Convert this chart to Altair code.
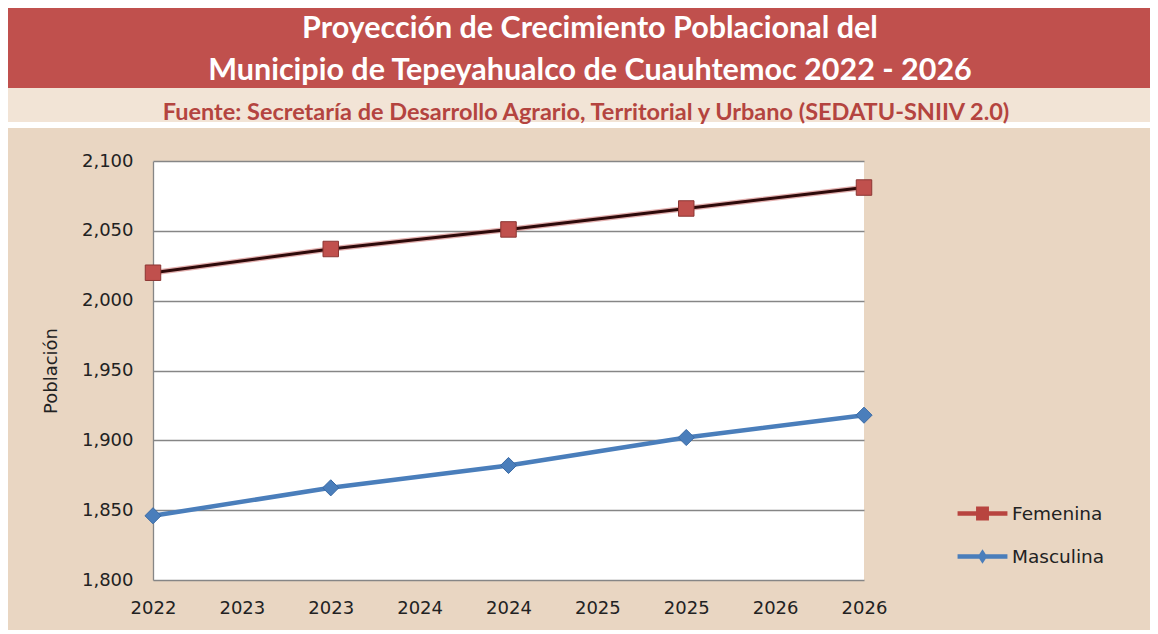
import json
import altair as alt
import pandas as pd

# ---------------- data ----------------
years = [2022, 2023, 2024, 2025, 2026]
femenina = [2020, 2037, 2051, 2066, 2081]
masculina = [1846, 1866, 1882, 1902, 1918]
series_names = ["Femenina", "Masculina"]
x_tick_values = [2022, 2022.5, 2023, 2023.5, 2024, 2024.5, 2025, 2025.5, 2026]
x_tick_labels = ["2022", "2023", "2023", "2024", "2024", "2025", "2025", "2026", "2026"]
y_ticks = [1800, 1850, 1900, 1950, 2000, 2050, 2100]

title_line1 = "Proyección de Crecimiento Poblacional del"
title_line2 = "Municipio de Tepeyahualco de Cuauhtemoc 2022 - 2026"
subtitle = "Fuente: Secretaría de Desarrollo Agrario, Territorial y Urbano (SEDATU-SNIIV 2.0)"
y_title = "Población"

rows = []
for i, yr in enumerate(years):
    rows.append({"anio": yr, "serie": "Femenina", "valor": femenina[i]})
    rows.append({"anio": yr, "serie": "Masculina", "valor": masculina[i]})
df = pd.DataFrame(rows)

# ---------------- style ----------------
RED_BAND = "#C0504D"
SUB_BAND = "#F2E4D6"
BEIGE = "#E9D6C2"
SUB_TEXT = "#B4443F"
FEM_MARK = "#C0504D"
FEM_LINE = "#2E0A0A"
MAS_COL = "#4A7EBB"
GRID = "#868686"
AX_FONT = "DejaVu Sans"
TITLE_FONT = "Lato"

W, H = 711, 419
PAD = {"left": 145, "top": 153, "right": 286, "bottom": 50}

x_enc = alt.X(
    "anio:Q",
    scale=alt.Scale(domain=[years[0], years[-1]], nice=False, zero=False),
    axis=alt.Axis(
        values=x_tick_values,
        labelExpr=f"{json.dumps(x_tick_labels)}[indexof({json.dumps(x_tick_values)}, datum.value)]",
        title=None, grid=False, ticks=False, tickSize=0, domain=False, labelFlush=False,
        labelBound=False, labelOverlap=False,
        labelFont=AX_FONT, labelFontSize=18, labelColor="#222222", labelPadding=19,
    ),
)
y_enc = alt.Y(
    "valor:Q",
    scale=alt.Scale(domain=[y_ticks[0], y_ticks[-1]], nice=False, zero=False),
    axis=alt.Axis(
        values=y_ticks, format=",d", title=y_title, grid=True, gridColor=GRID,
        gridWidth=1.3, ticks=False, tickSize=0, domainColor=GRID, domainWidth=1.3,
        labelFlush=False, labelBound=False, labelOverlap=False,
        labelFont=AX_FONT, labelFontSize=18, labelColor="#222222", labelPadding=20,
        titleFont=AX_FONT, titleFontSize=18, titleFontWeight="normal", titleColor="#222222",
        titlePadding=21,
    ),
)

one = alt.Data(values=[{}])

red_band = alt.Chart(one).mark_rect(color=RED_BAND).encode(
    x=alt.value(-145), x2=alt.value(W + PAD["right"]), y=alt.value(-153), y2=alt.value(-73))
sub_band = alt.Chart(one).mark_rect(color=SUB_BAND).encode(
    x=alt.value(-145), x2=alt.value(W + PAD["right"]), y=alt.value(-73), y2=alt.value(-39))
gap_band = alt.Chart(one).mark_rect(color="#FFFFFF").encode(
    x=alt.value(-145), x2=alt.value(W + PAD["right"]), y=alt.value(-39), y2=alt.value(-33))

t1 = alt.Chart(one).mark_text(text=title_line1, font=TITLE_FONT, fontSize=30.5, fontWeight="bold",
                              color="white", baseline="middle", align="center").encode(
    x=alt.value(437), y=alt.value(-132))
t2 = alt.Chart(one).mark_text(text=title_line2, font=TITLE_FONT, fontSize=30.5, fontWeight="bold",
                              color="white", baseline="middle", align="center").encode(
    x=alt.value(437), y=alt.value(-90))
t3 = alt.Chart(one).mark_text(text=subtitle, font=TITLE_FONT, fontSize=23.5, fontWeight="bold",
                              color=SUB_TEXT, baseline="middle", align="center").encode(
    x=alt.value(433), y=alt.value(-48))

base = alt.Chart(df)

fem = base.transform_filter("datum.serie == 'Femenina'")
mas = base.transform_filter("datum.serie == 'Masculina'")

fem_glow = fem.mark_line(color=FEM_MARK, strokeWidth=5.5, opacity=0.45).encode(x=x_enc, y=y_enc)
fem_line = fem.mark_line(color=FEM_LINE, strokeWidth=3).encode(x=x_enc, y=y_enc)
mas_line = mas.mark_line(color=MAS_COL, strokeWidth=4.5).encode(x=x_enc, y=y_enc)

fem_pts = fem.mark_point(shape="square", filled=True, size=240, color=FEM_MARK, stroke="#8C3633",
                         strokeWidth=1, opacity=1).encode(x=x_enc, y=y_enc)
mas_pts = mas.mark_point(shape="diamond", filled=True, size=260, color=MAS_COL, opacity=1,
                         stroke="#3A6AA5", strokeWidth=1).encode(x=x_enc, y=y_enc)

FEM_PATH = "M-1.16,-0.105L1.16,-0.105L1.16,0.105L-1.16,0.105Z M-0.3,-0.33L0.3,-0.33L0.3,0.33L-0.3,0.33Z"
MAS_PATH = "M-1.16,-0.11L1.16,-0.11L1.16,0.11L-1.16,0.11Z M0,-0.34L0.22,0L0,0.34L-0.22,0Z"

leg = alt.Legend(title=None, orient="none", legendX=808, legendY=331, symbolSize=1849,
                 labelFont=AX_FONT, labelFontSize=18.5, labelColor="#222222", labelOffset=8,
                 rowPadding=12, symbolStrokeWidth=0, padding=0)

legend_layer = base.transform_filter("false").mark_point(filled=True, opacity=1, size=1849).encode(
    x=x_enc, y=y_enc,
    color=alt.Color("serie:N", scale=alt.Scale(domain=series_names, range=["#B8443F", MAS_COL]), legend=leg),
    shape=alt.Shape("serie:N", scale=alt.Scale(domain=series_names, range=[FEM_PATH, MAS_PATH]), legend=leg),
)

chart = alt.layer(
    red_band, sub_band, gap_band, t1, t2, t3,
    fem_glow, fem_line, mas_line, fem_pts, mas_pts, legend_layer,
).properties(
    width=W, height=H,
    autosize=alt.AutoSizeParams(type="none"),
    padding=PAD,
    background=BEIGE,
).configure_view(
    fill="white", stroke=None,
)

chart.save("out.html", embed_options={"renderer": "svg", "actions": False})
